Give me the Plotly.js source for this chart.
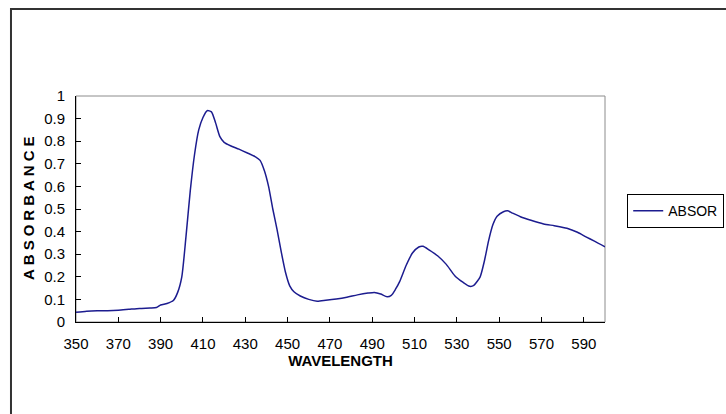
<!DOCTYPE html>
<html>
<head>
<meta charset="utf-8">
<script src="https://cdn.plot.ly/plotly-3.0.1.min.js"></script>
<style>html,body{margin:0;padding:0;background:#fff;}#chart{width:726px;height:414px;}</style>
</head>
<body>
<div id="chart"></div>
<script>
const wavelength = [350,355,360,365,370,375,380,385,388,390,393,396,398,400,402,404,406,408,410,412,414,416,418,420,423,427,431,435,437,439,441,443,445,447,449,451,453,456,460,464,468,473,478,483,488,491,494,497,499,501,503,506,509,512,514,517,521,525,529,533,536,538,541,543,545,547,549,552,554,556,560,565,571,576,582,587,591,595,600];
const absorbance = [0.043,0.048,0.05,0.05,0.052,0.056,0.06,0.062,0.064,0.075,0.082,0.095,0.13,0.2,0.38,0.58,0.74,0.85,0.905,0.935,0.93,0.88,0.82,0.795,0.78,0.765,0.748,0.73,0.715,0.67,0.6,0.5,0.41,0.31,0.22,0.16,0.134,0.115,0.1,0.092,0.096,0.102,0.11,0.12,0.128,0.131,0.124,0.112,0.118,0.145,0.18,0.25,0.305,0.332,0.335,0.318,0.292,0.255,0.205,0.175,0.158,0.162,0.2,0.27,0.36,0.43,0.468,0.488,0.492,0.483,0.466,0.45,0.434,0.426,0.415,0.397,0.377,0.358,0.333];
const xTicks = [350,370,390,410,430,450,470,490,510,530,550,570,590];
const yTicks = [0,0.1,0.2,0.3,0.4,0.5,0.6,0.7,0.8,0.9,1];
const yTickText = ['0','0.1','0.2','0.3','0.4','0.5','0.6','0.7','0.8','0.9','1'];
const seriesName = 'ABSOR';
const xTitle = 'WAVELENGTH';
const yTitle = 'ABSORBANCE';

const font = '"Liberation Sans", Arial, sans-serif';
const trace = {
  x: wavelength, y: absorbance, type: 'scatter', mode: 'lines', name: seriesName,
  line: {color: '#1c1c8f', width: 1.5, shape: 'spline', smoothing: 0.6}
};
const layout = {
  width: 726, height: 414,
  margin: {l: 76, r: 121, t: 96, b: 92, autoexpand: false},
  paper_bgcolor: '#ffffff', plot_bgcolor: '#ffffff',
  showlegend: true,
  legend: {x: 1.042, y: 0.566, xanchor: 'left', yanchor: 'top', bordercolor: '#000', borderwidth: 1,
           font: {family: font, size: 14, color: '#000'}, bgcolor: '#fff'},
  xaxis: {range: [350, 600], tickvals: xTicks, ticktext: xTicks.map(String), ticks: 'inside', ticklen: 5,
          tickcolor: '#000', showline: true, linecolor: '#000', linewidth: 1, showgrid: false, zeroline: false,
          ticklabelstandoff: 8,
          tickfont: {family: font, size: 15, color: '#000'},
          title: {text: '<b>' + xTitle + '</b>', font: {family: font, size: 15, color: '#000'}, standoff: 4}},
  yaxis: {range: [0, 1], tickvals: yTicks, ticktext: yTickText, ticks: 'inside', ticklen: 5,
          tickcolor: '#000', showline: true, linecolor: '#000', linewidth: 1, showgrid: false, zeroline: false,
          ticklabelstandoff: 7,
          tickfont: {family: font, size: 15, color: '#000'}},
  annotations: [
    {text: '<b><span style="letter-spacing:4px">' + yTitle + '</span></b>', xref: 'paper', yref: 'paper',
     x: -0.0907, y: 0.5, xanchor: 'center', yanchor: 'middle', textangle: -90, showarrow: false, yshift: 3,
     font: {family: font, size: 15, color: '#000'}}
  ],
  shapes: [
    {type: 'rect', xref: 'paper', yref: 'paper', x0: 0, x1: 1, y0: 0, y1: 1, layer: 'below', line: {color: '#8c8c8c', width: 1}},
    {type: 'rect', xref: 'paper', yref: 'paper', x0: -0.1229, x1: 1.3, y0: -0.6, y1: 1.385, layer: 'below', line: {color: '#333', width: 2}}
  ]
};
Plotly.newPlot('chart', [trace], layout, {displayModeBar: false, staticPlot: true});
</script>
</body>
</html>
